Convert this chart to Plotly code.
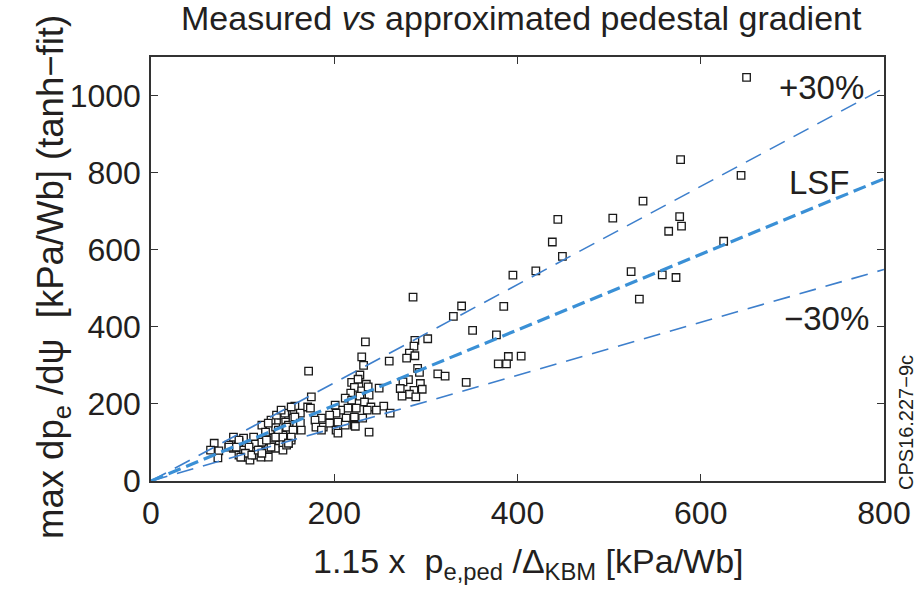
import plotly.graph_objects as go

# ---- data ----
sparse_x = [650, 578, 644, 537, 444, 504, 577, 579, 565, 438, 625, 449, 420, 395, 524, 558, 573, 533,
            286, 339, 385, 330, 351, 377, 302, 288, 287, 282, 279, 288, 404, 390, 379, 388, 291, 293,
            313, 321, 344, 281, 275, 294, 272, 296, 287, 282, 274, 289]
sparse_y = [1047, 834, 793, 726, 679, 682, 686, 661, 648, 620, 622, 583, 545, 534, 543, 535, 528, 472,
            477, 454, 453, 427, 391, 379, 369, 365, 350, 332, 319, 325, 324, 323, 304, 304, 292, 282,
            278, 272, 256, 263, 257, 253, 240, 238, 235, 225, 220, 218]

mid_x = [234, 172, 230, 232, 260, 228, 219, 226, 235, 222, 230, 237, 218, 212, 228, 238, 219, 233,
         240, 249, 254, 261, 246, 236, 224, 215, 207, 201, 202, 195, 186, 179, 180, 188, 195, 204,
         213, 222, 231, 212, 222, 202, 204, 238, 223, 174, 175, 157, 163, 164, 155, 153, 150, 186]
mid_y = [361, 285, 322, 300, 311, 275, 256, 264, 251, 243, 234, 244, 228, 215, 220, 223, 210, 205,
         192, 241, 194, 176, 184, 184, 189, 189, 184, 197, 176, 171, 163, 158, 140, 140, 150, 153,
         163, 166, 163, 145, 145, 132, 124, 127, 142, 189, 218, 166, 150, 132, 132, 114, 98, 132]

low_x = [69, 65, 74, 73, 85, 90, 95, 96, 101, 99, 106, 108, 101, 112, 114, 118, 123, 125, 128, 130,
         134, 136, 137, 140, 142, 146, 147, 150, 150, 150, 153, 156, 157, 155, 131, 121, 128, 114,
         120, 96, 139, 144, 136, 144, 144,
         90, 96, 93, 107, 103, 110, 117, 121, 125, 128, 137, 142, 153, 163, 159, 148, 139, 136, 144,
         150, 148, 131, 126, 121, 171, 85, 98]
low_y = [98, 80, 78, 60, 93, 85, 91, 67, 80, 62, 62, 54, 111, 114, 96, 80, 98, 124, 85, 132,
         111, 140, 158, 93, 171, 176, 153, 145, 124, 101, 106, 181, 194, 163, 158, 145, 62, 67,
         62, 101, 124, 119, 85, 98, 80,
         114, 106, 88, 88, 72, 67, 80, 101, 127, 150, 171, 184, 192, 176, 150, 140, 132, 114, 114,
         98, 93, 88, 106, 72, 192, 88, 62]

lsf_slope = 0.98
band = 0.30
line_x = [0, 800]

x_ticks = [0, 200, 400, 600, 800]
y_ticks = [0, 200, 400, 600, 800, 1000]

FONT = "Liberation Sans, Arial, Helvetica, sans-serif"
TXT = "#231f20"

pts_x = low_x + mid_x + sparse_x
pts_y = low_y + mid_y + sparse_y

fig = go.Figure()
fig.add_trace(go.Scatter(
    x=pts_x, y=pts_y, mode="markers",
    marker=dict(symbol="square", size=7.5, color="white",
                line=dict(color="#1a1a1a", width=1.3)),
    showlegend=False, hoverinfo="x+y"))

for f, w, c, d in [(1 + band, 1.6, "#3d7fcc", "17px,10px"),
                   (1 - band, 1.6, "#3d7fcc", "17px,10px"),
                   (1.0, 3.2, "#3a90d6", "13px,6px")]:
    fig.add_trace(go.Scatter(
        x=line_x, y=[lsf_slope * f * v for v in line_x], mode="lines",
        line=dict(color=c, width=w, dash=d), showlegend=False, hoverinfo="skip"))

axis_common = dict(showgrid=False, zeroline=False, showline=True, linecolor="#333333",
                   linewidth=1.5, mirror="ticks", ticks="inside", ticklen=7, tickwidth=1.3,
                   tickcolor="#333333", tickfont=dict(family=FONT, size=32, color=TXT))

fig.update_layout(
    width=923, height=597,
    margin=dict(l=151, r=32, t=57, b=116),
    paper_bgcolor="white", plot_bgcolor="white",
    font=dict(family=FONT, color=TXT),
    xaxis=dict(range=[0, 800], tickvals=x_ticks, ticklabelstandoff=3, **axis_common),
    yaxis=dict(range=[0, 1100], tickvals=y_ticks, ticklabelstandoff=2, **axis_common),
    annotations=[
        dict(text="Measured <i>vs</i> approximated pedestal gradient", xref="paper", yref="paper",
             x=0.505, y=1.092, xanchor="center", yanchor="middle", showarrow=False,
             font=dict(size=34, family=FONT, color=TXT)),
        dict(text="1.15 x\u00a0 p<sub>e,ped</sub> /Δ<sub>KBM</sub> [kPa/Wb]", xref="paper", yref="paper",
             x=0.515, y=-0.195, xanchor="center", yanchor="middle", showarrow=False,
             font=dict(size=34, family=FONT, color=TXT)),
        dict(text="max dp<sub>e</sub> /dψ\u00a0 [kPa/Wb] (tanh−fit)", xref="paper", yref="paper",
             x=-0.133, y=0.48, xanchor="center", yanchor="middle", textangle=-90, showarrow=False,
             font=dict(size=36.5, family=FONT, color=TXT)),
        dict(text="+30%", xref="paper", yref="paper", x=0.915, y=0.927, showarrow=False,
             xanchor="center", yanchor="middle", font=dict(size=33, family=FONT, color=TXT)),
        dict(text="LSF", xref="paper", yref="paper", x=0.912, y=0.705, showarrow=False,
             xanchor="center", yanchor="middle", font=dict(size=33, family=FONT, color=TXT)),
        dict(text="−30%", xref="paper", yref="paper", x=0.922, y=0.384, showarrow=False,
             xanchor="center", yanchor="middle", font=dict(size=33, family=FONT, color=TXT)),
        dict(text="CPS16.227−9c", xref="paper", yref="paper", x=1.030, y=0.139, showarrow=False,
             xanchor="center", yanchor="middle", textangle=-90,
             font=dict(size=20, family=FONT, color=TXT)),
    ],
)

fig.write_html("out.html")
